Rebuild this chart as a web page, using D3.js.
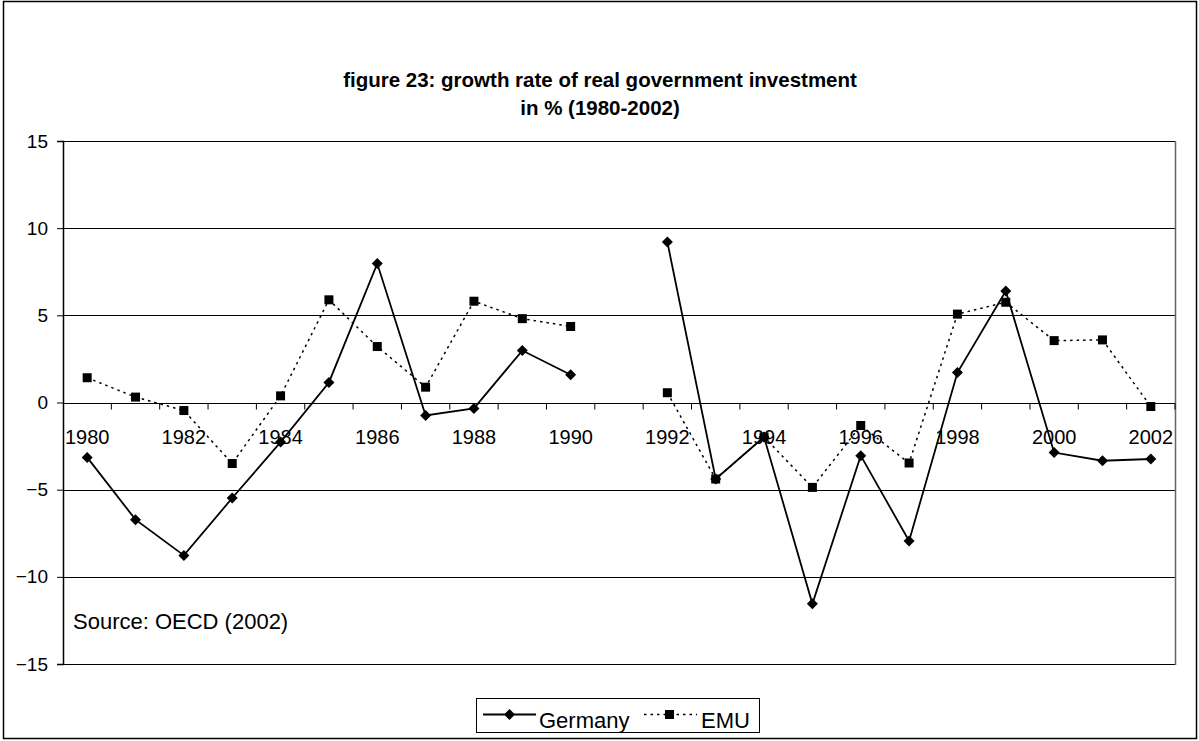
<!DOCTYPE html>
<html>
<head>
<meta charset="utf-8">
<script src="https://cdn.jsdelivr.net/npm/d3@7"></script>
<style>
  html, body { margin: 0; padding: 0; background: #fff; }
  svg { display: block; font-family: Arial, "Liberation Sans", sans-serif; }
</style>
</head>
<body>
<svg id="chart" width="1199" height="741"></svg>
<script>
const years = ["1980","1981","1982","1983","1984","1985","1986","1987","1988","1989","1990","1991",
               "1992","1993","1994","1995","1996","1997","1998","1999","2000","2001","2002"];
const germany = [-3.15,-6.72,-8.77,-5.48,-2.27,1.15,7.97,-0.74,-0.34,2.98,1.59,null,
                 9.21,-4.39,-1.98,-11.55,-3.05,-7.94,1.72,6.40,-2.87,-3.34,-3.24];
const emu = [1.42,0.31,-0.46,-3.50,0.38,5.89,3.21,0.88,5.81,4.81,4.36,null,
             0.56,-4.39,-1.98,-4.87,-1.32,-3.47,5.07,5.75,3.55,3.59,-0.23];
const yTicks = [15,10,5,0,-5,-10,-15];
const xLabels = ["1980","1982","1984","1986","1988","1990","1992","1994","1996","1998","2000","2002"];
const seriesNames = ["Germany","EMU"];
const titleLines = ["figure 23: growth rate of real government investment","in % (1980-2002)"];
const sourceText = "Source: OECD (2002)";

const svg = d3.select("#chart");
const L = 63, R = 1175, T = 141, B = 664;

// outer border
svg.append("rect").attr("x", 3.5).attr("y", 1.5).attr("width", 1193).attr("height", 737)
  .attr("fill", "#fff").attr("stroke", "#000").attr("stroke-width", 1.5);

// title
svg.append("text").attr("x", 600).attr("y", 87).attr("text-anchor", "middle")
  .attr("font-size", 20.5).attr("font-weight", "bold").text(titleLines[0]);
svg.append("text").attr("x", 600).attr("y", 115).attr("text-anchor", "middle")
  .attr("font-size", 20.5).attr("font-weight", "bold").text(titleLines[1]);

const x = d3.scaleBand().domain(years).range([L, R]).padding(0);
const cx = d => x(d) + x.bandwidth() / 2;
const y = d3.scaleLinear().domain([-15, 15]).range([B, T]);

// gridlines
svg.append("g").selectAll("line").data(yTicks).join("line")
  .attr("x1", L).attr("x2", R)
  .attr("y1", d => Math.round(y(d)) + 0.5).attr("y2", d => Math.round(y(d)) + 0.5)
  .attr("stroke", "#000").attr("stroke-width", 1);

// plot border right
svg.append("line").attr("x1", R + 0.5).attr("x2", R + 0.5).attr("y1", T).attr("y2", B + 1)
  .attr("stroke", "#666").attr("stroke-width", 1.5);

// y axis
const yAxis = d3.axisLeft(y).tickValues(yTicks).tickSize(6).tickPadding(9).tickFormat(d3.format("d"));
const gy = svg.append("g").attr("transform", `translate(${L},0)`).call(yAxis);
gy.select(".domain").attr("stroke", "#000").attr("stroke-width", 1.5);
gy.selectAll(".tick line").attr("stroke", "#000");
gy.selectAll(".tick text").attr("font-size", 19).attr("font-family", "Arial, 'Liberation Sans', sans-serif").attr("fill", "#000");

// x axis at zero: ticks at category boundaries
const zeroY = Math.round(y(0)) + 0.5;
svg.append("line").attr("x1", L).attr("x2", R).attr("y1", zeroY).attr("y2", zeroY)
  .attr("stroke", "#000").attr("stroke-width", 1.2);
svg.append("g").selectAll("line").data(years.slice(1).concat(["end"])).join("line")
  .attr("x1", d => d === "end" ? R : x(d)).attr("x2", d => d === "end" ? R : x(d))
  .attr("y1", zeroY).attr("y2", zeroY + 6)
  .attr("stroke", "#000").attr("stroke-width", 1);
const xAxis = d3.axisBottom(x).tickValues(xLabels).tickSize(0).tickPadding(0);
const gx = svg.append("g").attr("transform", `translate(0,${zeroY})`).call(xAxis);
gx.select(".domain").remove();
gx.selectAll(".tick text").attr("font-size", 20).attr("dy", null).attr("y", 40)
  .attr("font-family", "Arial, 'Liberation Sans', sans-serif").attr("fill", "#000");

// source
svg.append("text").attr("x", 73).attr("y", 629).attr("font-size", 22).text(sourceText);

const line = d3.line().defined(d => d.v !== null).x(d => cx(d.yr)).y(d => y(d.v));
const emuData = years.map((yr, i) => ({ yr, v: emu[i] }));
const gerData = years.map((yr, i) => ({ yr, v: germany[i] }));

// EMU
svg.append("path").datum(emuData).attr("d", line).attr("fill", "none")
  .attr("stroke", "#000").attr("stroke-width", 1.5).attr("stroke-dasharray", "2.5,4");
svg.append("g").selectAll("rect").data(emuData.filter(d => d.v !== null)).join("rect")
  .attr("x", d => cx(d.yr) - 4.5).attr("y", d => y(d.v) - 4.5)
  .attr("width", 9).attr("height", 9).attr("fill", "#000");

// Germany
const diamond = (px, py, r) => `M${px},${py - r}L${px + r},${py}L${px},${py + r}L${px - r},${py}Z`;
svg.append("path").datum(gerData).attr("d", line).attr("fill", "none")
  .attr("stroke", "#000").attr("stroke-width", 1.8);
svg.append("g").selectAll("path").data(gerData.filter(d => d.v !== null)).join("path")
  .attr("d", d => diamond(cx(d.yr), y(d.v), 5.5)).attr("fill", "#000");

// legend
const lg = svg.append("g");
lg.append("rect").attr("x", 476.5).attr("y", 698.5).attr("width", 283).attr("height", 34)
  .attr("fill", "#fff").attr("stroke", "#000").attr("stroke-width", 1);
lg.append("line").attr("x1", 483).attr("x2", 536).attr("y1", 714.5).attr("y2", 714.5)
  .attr("stroke", "#000").attr("stroke-width", 1.8);
lg.append("path").attr("d", diamond(509.5, 714.5, 5.5)).attr("fill", "#000");
lg.append("text").attr("x", 539).attr("y", 728).attr("font-size", 22).text(seriesNames[0]);
lg.append("line").attr("x1", 644).attr("x2", 697).attr("y1", 714.5).attr("y2", 714.5)
  .attr("stroke", "#000").attr("stroke-width", 1.5).attr("stroke-dasharray", "2.5,4");
lg.append("rect").attr("x", 665).attr("y", 710).attr("width", 9).attr("height", 9).attr("fill", "#000");
lg.append("text").attr("x", 701).attr("y", 728).attr("font-size", 22).text(seriesNames[1]);
</script>
</body>
</html>
